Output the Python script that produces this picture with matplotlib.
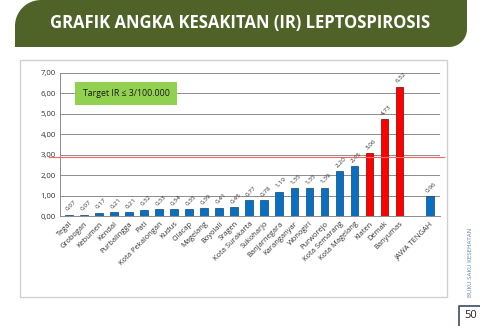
import matplotlib.pyplot as plt
import numpy as np
from matplotlib.path import Path
from matplotlib.patches import PathPatch, Rectangle

# data
regions = ['Tegal', 'Grobogan', 'Kebumen', 'Kendal', 'Purbalingga', 'Pati',
           'Kota Pekalongan', 'Kudus', 'Cilacap', 'Magelang', 'Boyolali', 'Sragen',
           'Kota Surakarta', 'Sukoharjo', 'Banjarnegara', 'Karanganyar', 'Wonogiri',
           'Purworejo', 'Kota Semarang', 'Kota Magelang', 'Klaten', 'Demak',
           'Banyumas', '', 'JAWA TENGAH']
ir_values = [0.07, 0.07, 0.17, 0.21, 0.21, 0.32, 0.33, 0.34, 0.35, 0.39, 0.41, 0.45,
             0.77, 0.78, 1.19, 1.35, 1.35, 1.39, 2.20, 2.45, 3.06, 4.73, 6.32,
             np.nan, 0.96]
target_line = 2.87
yticks = [0, 1, 2, 3, 4, 5, 6, 7]

blue = '#0b6fc0'
red = '#ff0000'
green_banner = '#4f6228'
font = ['Open Sans', 'DejaVu Sans']
plt.rcParams['font.family'] = font

fig = plt.figure(figsize=(4.8, 3.26), dpi=100)

# background layer in pixel coords
bg = fig.add_axes([0, 0, 1, 1], zorder=0)
bg.set_xlim(0, 480)
bg.set_ylim(326, 0)
bg.axis('off')

# banner: rounded top-left and bottom-right
def arc(cx, cy, r, a0, a1, n=20):
    t = np.radians(np.linspace(a0, a1, n))
    return list(zip(cx + r * np.cos(t), cy - r * np.sin(t)))

r1, r2 = 26, 18
pts = [(15, 47)]
pts += arc(15 + r1, r1, r1, 180, 90)
pts += [(467, 0)]
pts += arc(467 - r2, 47 - r2, r2, 0, -90)
pts += [(15, 47)]
bg.add_patch(PathPatch(Path(pts), facecolor=green_banner, edgecolor='none'))
bg.text(240, 23, 'GRAFIK ANGKA KESAKITAN (IR) LEPTOSPIROSIS', color='white',
        fontsize=12, fontweight='bold', ha='center', va='center')

# chart frame
bg.add_patch(Rectangle((20, 60), 427, 237, facecolor='white', edgecolor='#d0d0d0', lw=1))

# side text and page number
bg.text(470, 262, 'BUKU SAKU KESEHATAN', rotation=90, fontsize=4.4, color='#5f7fb8',
        ha='center', va='center')
bg.plot([459, 459, 480], [326, 306, 306], color='#3a4a6a', lw=1.2)
bg.text(471, 316, '50', fontsize=8, color='#222222', ha='center', va='center')

# chart axes
ax = fig.add_axes([0.125, 0.337, 0.792, 0.44], zorder=2)
ax.patch.set_alpha(0)
x = np.arange(len(regions))
colors = [red if v > 3 else blue for v in np.nan_to_num(ir_values)]
ax.bar(x, ir_values, width=0.52, color=colors,
       edgecolor=['#7a0000' if c == red else '#08477a' for c in colors],
       lw=0.5, zorder=3)

for xi, v in zip(x, ir_values):
    if np.isnan(v):
        continue
    ax.annotate(f'{v:.2f}'.replace('.', ','), (xi, v), xytext=(1, 2), textcoords='offset points',
                rotation=45, ha='center', va='bottom', fontsize=4.6, color='#333333')

ax.axhline(target_line, color='#ff6060', lw=0.8, zorder=4, xmin=-0.03, xmax=1.01, clip_on=False)

ax.set_xlim(-0.6, 24.7)
ax.set_ylim(0, 7)
ax.set_yticks(yticks)
ax.set_yticklabels([f'{t:.2f}'.replace('.', ',') for t in yticks], fontsize=5.6, color='#333333')
ax.set_xticks(x)
ax.set_xticklabels(regions, rotation=45, ha='right', rotation_mode='anchor', fontsize=5.4, color='#333333')
ax.tick_params(axis='both', length=0, pad=3)
ax.grid(axis='y', color='#8c8c8c', lw=0.7, zorder=0)
for s in ['top', 'right']:
    ax.spines[s].set_visible(False)
for s in ['left', 'bottom']:
    ax.spines[s].set_color('#8c8c8c')
    ax.spines[s].set_linewidth(0.7)

ax.text(0.06, 0.855, 'Target IR \u2264 3/100.000', transform=ax.transAxes, fontsize=6.3,
        color='#1a1a1a', va='center', ha='left',
        bbox=dict(boxstyle='square,pad=0.85', facecolor='#92d050', edgecolor='none'), zorder=5)

fig.savefig('out.png', dpi=100)
